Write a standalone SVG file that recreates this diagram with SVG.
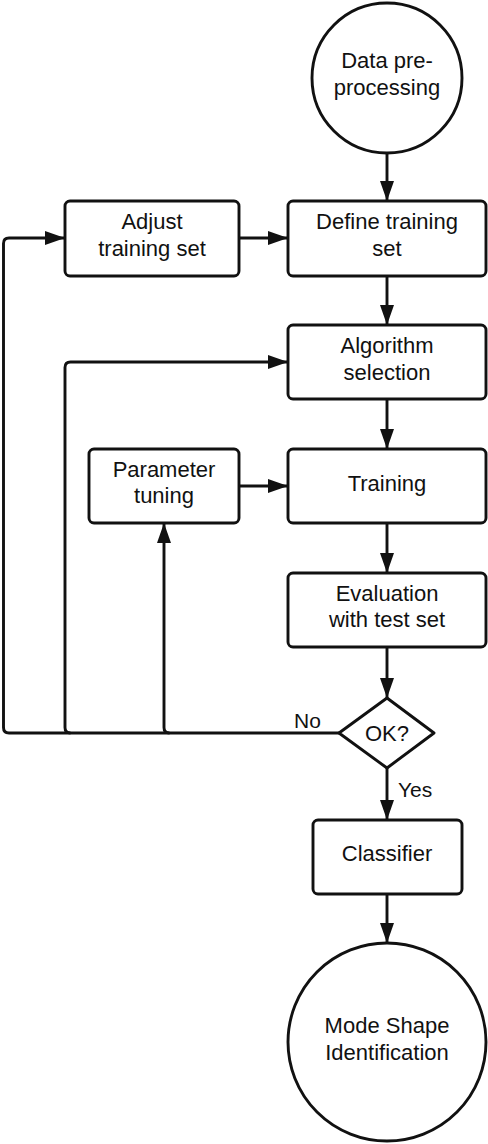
<svg xmlns="http://www.w3.org/2000/svg" width="488" height="1144" viewBox="0 0 488 1144">
  <style>
    .shape { fill: #ffffff; stroke: #111111; stroke-width: 2.9; }
    .edge { fill: none; stroke: #111111; stroke-width: 2.9; stroke-linejoin: round; }
    .label { font-family: "Liberation Sans", Arial, sans-serif; font-size: 22px; fill: #111111; text-anchor: middle; }
    .edge-label { font-family: "Liberation Sans", Arial, sans-serif; font-size: 21px; fill: #111111; }
  </style>
  <defs>
    <marker id="arrow" markerUnits="userSpaceOnUse" markerWidth="22" markerHeight="16" viewBox="0 -8 22 16" refX="20" refY="0" orient="auto">
      <path d="M0,-7 L20,0 L0,7 z" fill="#111111"/>
    </marker>
  </defs>
  <rect width="488" height="1144" fill="#ffffff"/>

  <!-- connectors -->
  <g id="connectors">
    <path class="edge" d="M387,153 V201" marker-end="url(#arrow)"/>
    <path class="edge" d="M239,238 H288" marker-end="url(#arrow)"/>
    <path class="edge" d="M387,276 V325" marker-end="url(#arrow)"/>
    <path class="edge" d="M387,399 V449" marker-end="url(#arrow)"/>
    <path class="edge" d="M239,486 H288" marker-end="url(#arrow)"/>
    <path class="edge" d="M387,523 V573" marker-end="url(#arrow)"/>
    <path class="edge" d="M387,647 V698" marker-end="url(#arrow)"/>
    <path class="edge" d="M387,768 V820" marker-end="url(#arrow)"/>
    <path class="edge" d="M387,894 V943" marker-end="url(#arrow)"/>
    <!-- "No" feedback loops -->
    <path class="edge" d="M339,733 H9 Q3.5,733 3.5,727.5 V243.5 Q3.5,238 9,238 H65" marker-end="url(#arrow)"/>
    <path class="edge" d="M70.5,733 Q65,733 65,727.5 V367.5 Q65,362 70.5,362 H288" marker-end="url(#arrow)"/>
    <path class="edge" d="M169.5,733 Q164,733 164,727.5 V523" marker-end="url(#arrow)"/>
    <text class="edge-label" x="294" y="728">No</text>
    <text class="edge-label" x="398" y="797">Yes</text>
  </g>

  <g id="data-preprocessing">
    <circle class="shape" cx="387" cy="78" r="75"/>
    <text class="label" x="387" y="68">Data pre-</text>
    <text class="label" x="387" y="95">processing</text>
  </g>

  <g id="adjust-training-set">
    <rect class="shape" x="65" y="201" width="174" height="75" rx="5"/>
    <text class="label" x="152" y="229">Adjust</text>
    <text class="label" x="152" y="256">training set</text>
  </g>

  <g id="define-training-set">
    <rect class="shape" x="288" y="201" width="198" height="75" rx="5"/>
    <text class="label" x="387" y="229">Define training</text>
    <text class="label" x="387" y="256">set</text>
  </g>

  <g id="algorithm-selection">
    <rect class="shape" x="288" y="325" width="198" height="74" rx="5"/>
    <text class="label" x="387" y="353">Algorithm</text>
    <text class="label" x="387" y="380">selection</text>
  </g>

  <g id="parameter-tuning">
    <rect class="shape" x="89" y="449" width="150" height="74" rx="5"/>
    <text class="label" x="164" y="477">Parameter</text>
    <text class="label" x="164" y="503">tuning</text>
  </g>

  <g id="training">
    <rect class="shape" x="288" y="449" width="198" height="74" rx="5"/>
    <text class="label" x="387" y="491">Training</text>
  </g>

  <g id="evaluation">
    <rect class="shape" x="288" y="573" width="198" height="74" rx="5"/>
    <text class="label" x="387" y="601">Evaluation</text>
    <text class="label" x="387" y="627">with test set</text>
  </g>

  <g id="ok-decision">
    <path class="shape" d="M387,698 L434,733 L387,768 L339,733 Z" stroke-linejoin="round"/>
    <text class="label" x="387" y="741">OK?</text>
  </g>

  <g id="classifier">
    <rect class="shape" x="313" y="820" width="149" height="74" rx="5"/>
    <text class="label" x="387" y="861">Classifier</text>
  </g>

  <g id="mode-shape-identification">
    <circle class="shape" cx="387" cy="1042" r="99"/>
    <text class="label" x="387" y="1033">Mode Shape</text>
    <text class="label" x="387" y="1060">Identification</text>
  </g>
</svg>
